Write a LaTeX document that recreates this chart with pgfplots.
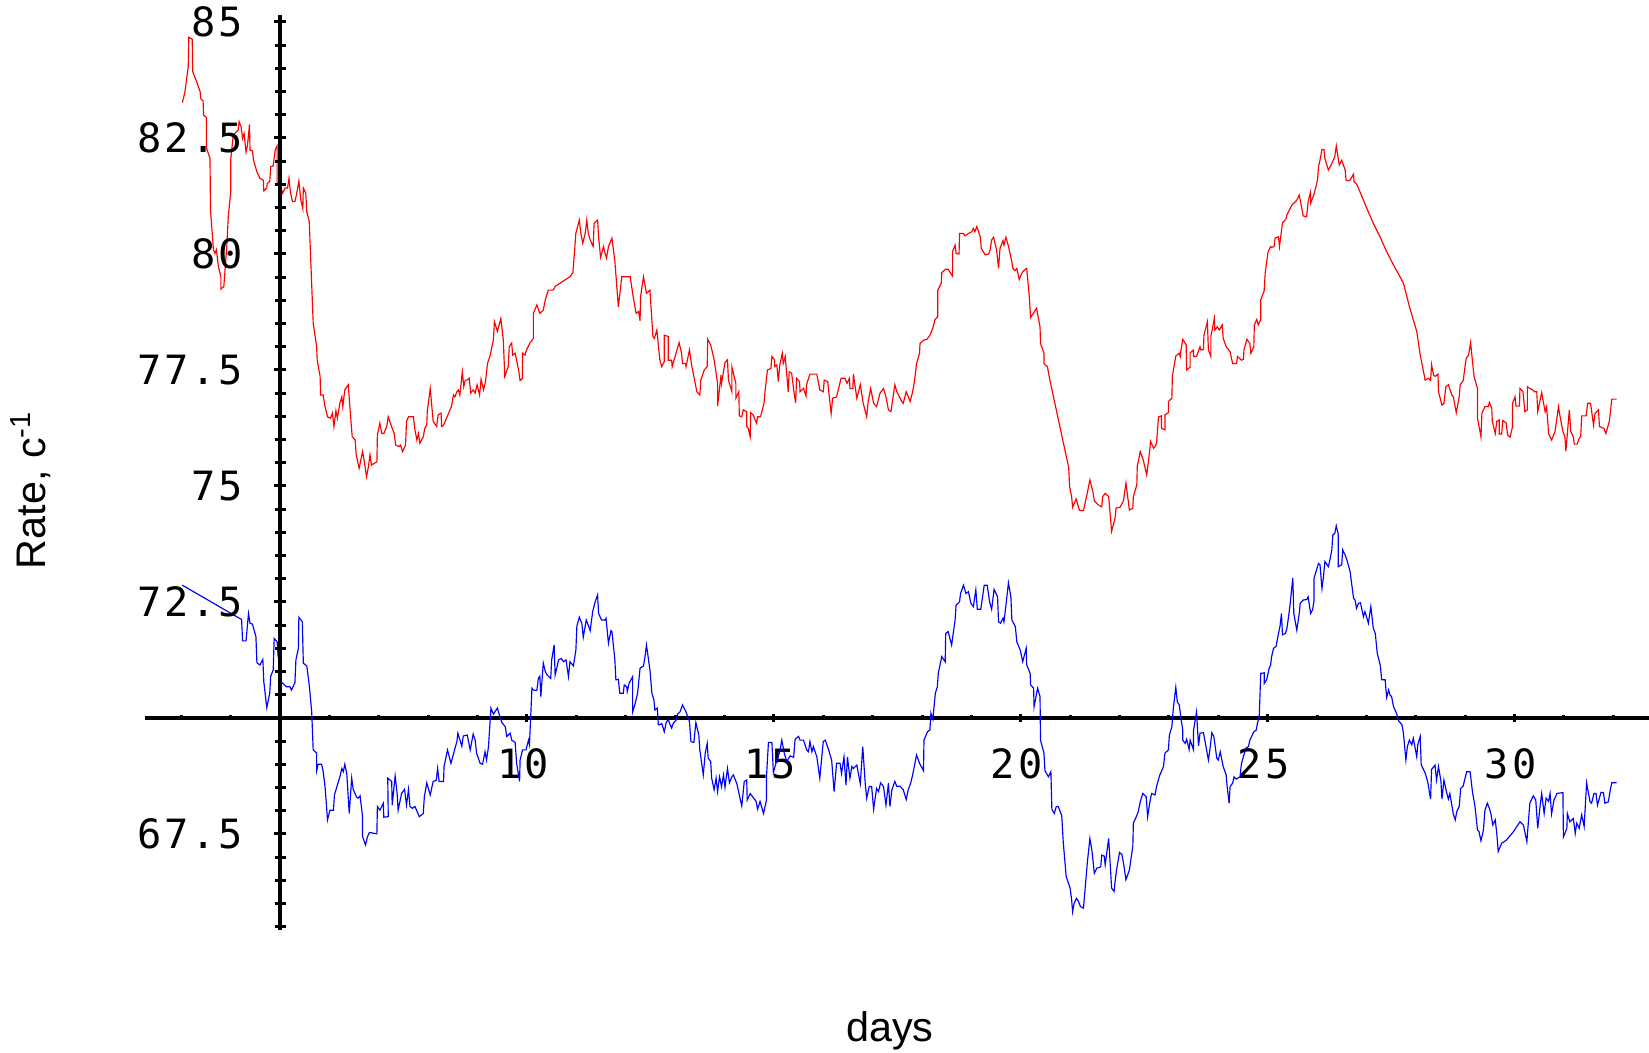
\documentclass[border=0pt]{standalone}
\usepackage{pgfplots}
\pgfplotsset{compat=1.18}
\usepackage{fontspec}
\setmainfont{Liberation Sans}
\newfontfamily\tickfont{DejaVu Sans Mono}[LetterSpace=7.5]
\pgfplotstableread[row sep=\\]{
x y\\
3.02 83.26\\ 3.07 83.48\\ 3.14 84.04\\ 3.15 84.67\\ 3.22 84.63\\ 3.23 83.93\\ 3.31 83.71\\ 3.38 83.50\\ 3.39 83.35\\ 3.44 83.30\\
3.45 82.99\\ 3.51 82.94\\ 3.51 82.28\\ 3.58 82.06\\ 3.59 80.95\\ 3.65 80.09\\ 3.68 80.01\\ 3.71 80.09\\ 3.75 79.73\\ 3.80 79.51\\
3.80 79.24\\ 3.86 79.30\\ 3.92 80.16\\ 3.95 80.80\\ 4.00 81.34\\ 4.00 82.03\\ 4.05 82.56\\ 4.15 82.67\\ 4.17 82.85\\ 4.21 82.74\\
4.24 82.49\\ 4.27 82.60\\ 4.31 82.20\\ 4.34 82.35\\ 4.38 82.79\\ 4.39 82.24\\ 4.44 82.22\\ 4.46 82.03\\ 4.53 81.77\\ 4.59 81.63\\
4.66 81.59\\ 4.67 81.36\\ 4.73 81.42\\ 4.74 81.52\\ 4.79 81.56\\ 4.81 81.88\\ 4.86 81.90\\ 4.90 82.24\\ 4.94 82.33\\ 4.94 81.50\\
5.01 81.45\\ 5.05 81.31\\ 5.10 81.42\\ 5.15 81.42\\ 5.18 81.63\\ 5.21 81.32\\ 5.25 81.13\\ 5.30 81.13\\ 5.33 81.27\\ 5.38 81.57\\
5.42 81.16\\ 5.46 80.98\\ 5.47 81.42\\ 5.52 81.31\\ 5.54 80.91\\ 5.59 80.70\\ 5.67 78.51\\ 5.74 78.00\\ 5.75 77.72\\ 5.81 77.36\\
5.82 76.96\\ 5.87 76.96\\ 5.91 76.71\\ 5.96 76.49\\ 6.02 76.46\\ 6.06 76.57\\ 6.09 76.28\\ 6.13 76.62\\ 6.16 76.46\\ 6.21 76.78\\
6.25 76.92\\ 6.27 76.71\\ 6.31 77.07\\ 6.38 77.18\\ 6.42 76.60\\ 6.46 76.06\\ 6.52 75.99\\ 6.54 75.68\\ 6.60 75.38\\ 6.67 75.74\\
6.70 75.56\\ 6.75 75.20\\ 6.79 75.42\\ 6.82 75.67\\ 6.85 75.45\\ 6.96 75.52\\ 6.97 76.10\\ 7.02 76.35\\ 7.06 76.13\\ 7.10 76.13\\
7.16 76.28\\ 7.19 76.49\\ 7.26 76.27\\ 7.31 76.13\\ 7.34 75.88\\ 7.41 75.85\\ 7.44 75.88\\ 7.48 75.74\\ 7.54 75.88\\ 7.56 76.39\\
7.60 76.49\\ 7.70 76.49\\ 7.73 76.21\\ 7.77 75.99\\ 7.80 76.13\\ 7.83 75.92\\ 7.90 76.06\\ 7.93 76.24\\ 7.97 76.31\\ 7.98 76.60\\
8.04 77.10\\ 8.10 76.39\\ 8.17 76.28\\ 8.20 76.53\\ 8.26 76.57\\ 8.27 76.28\\ 8.31 76.31\\ 8.37 76.46\\ 8.47 76.71\\ 8.51 76.96\\
8.54 76.92\\ 8.58 77.03\\ 8.61 77.07\\ 8.64 76.96\\ 8.69 77.46\\ 8.72 77.14\\ 8.75 77.28\\ 8.79 77.28\\ 8.83 77.32\\ 8.86 77.00\\
8.91 77.07\\ 8.95 77.00\\ 8.99 77.18\\ 9.04 76.96\\ 9.07 77.30\\ 9.12 77.07\\ 9.16 77.25\\ 9.20 77.64\\ 9.25 77.80\\ 9.32 78.15\\
9.34 78.54\\ 9.40 78.33\\ 9.47 78.61\\ 9.52 78.15\\ 9.55 77.36\\ 9.62 77.57\\ 9.64 78.00\\ 9.69 78.08\\ 9.71 77.82\\ 9.76 77.86\\
9.83 77.50\\ 9.86 77.27\\ 9.91 77.32\\ 9.91 77.86\\ 9.96 77.82\\ 9.99 77.93\\ 10.06 78.08\\ 10.13 78.18\\ 10.13 78.72\\ 10.20 78.90\\
10.26 78.72\\ 10.33 78.79\\ 10.37 79.01\\ 10.43 79.22\\ 10.53 79.22\\ 10.57 79.30\\ 10.67 79.37\\ 10.77 79.44\\ 10.87 79.51\\ 10.93 79.60\\
10.97 80.16\\ 10.99 80.45\\ 11.06 80.73\\ 11.09 80.45\\ 11.13 80.23\\ 11.18 80.45\\ 11.21 80.73\\ 11.24 80.45\\ 11.28 80.30\\ 11.34 80.16\\
11.36 80.66\\ 11.43 80.73\\ 11.45 80.37\\ 11.49 79.93\\ 11.55 80.16\\ 11.58 80.01\\ 11.61 79.91\\ 11.65 80.16\\ 11.72 80.34\\ 11.78 79.84\\
11.85 78.86\\ 11.92 79.51\\ 12.09 79.51\\ 12.15 79.08\\ 12.21 78.72\\ 12.26 78.76\\ 12.29 78.56\\ 12.30 79.08\\ 12.36 79.51\\ 12.42 79.15\\
12.49 79.22\\ 12.55 78.22\\ 12.58 78.18\\ 12.63 78.36\\ 12.69 77.72\\ 12.73 77.57\\ 12.78 77.68\\ 12.78 78.25\\ 12.86 78.22\\ 12.86 77.71\\
12.93 77.71\\ 12.94 77.57\\ 13.00 77.79\\ 13.08 78.09\\ 13.13 77.86\\ 13.15 77.64\\ 13.21 77.64\\ 13.22 77.57\\ 13.29 77.93\\ 13.34 77.57\\
13.44 77.03\\ 13.50 76.96\\ 13.52 77.28\\ 13.59 77.50\\ 13.65 77.57\\ 13.66 78.16\\ 13.72 78.04\\ 13.79 77.72\\ 13.86 77.21\\ 13.86 76.72\\
13.93 77.39\\ 13.94 77.21\\ 14.01 77.66\\ 14.06 77.72\\ 14.08 77.28\\ 14.15 77.03\\ 14.15 77.56\\ 14.23 77.21\\ 14.23 76.89\\ 14.29 77.03\\
14.30 76.51\\ 14.35 76.49\\ 14.38 76.64\\ 14.45 76.60\\ 14.45 76.28\\ 14.48 76.24\\ 14.52 76.06\\ 14.53 76.58\\ 14.58 76.53\\ 14.65 76.35\\
14.67 76.49\\ 14.73 76.49\\ 14.80 76.78\\ 14.82 77.03\\ 14.87 77.50\\ 14.94 77.53\\ 14.96 77.79\\ 15.01 77.72\\ 15.02 77.57\\ 15.06 77.61\\
15.09 77.25\\ 15.12 77.61\\ 15.17 77.86\\ 15.19 77.64\\ 15.23 77.79\\ 15.29 77.03\\ 15.31 77.46\\ 15.36 77.43\\ 15.41 77.00\\ 15.44 76.79\\
15.46 77.32\\ 15.52 77.25\\ 15.53 77.03\\ 15.60 77.10\\ 15.65 76.94\\ 15.665 77.20\\ 15.73 77.41\\ 15.87 77.41\\ 15.93 77.07\\ 16.00 77.03\\
16.02 77.28\\ 16.09 77.25\\ 16.16 76.56\\ 16.19 76.89\\ 16.27 76.92\\ 16.32 77.14\\ 16.36 77.32\\ 16.44 77.32\\ 16.48 77.21\\ 16.53 77.32\\
16.54 77.10\\ 16.60 77.10\\ 16.61 77.41\\ 16.68 76.89\\ 16.75 77.18\\ 16.81 76.78\\ 16.88 76.49\\ 16.91 76.82\\ 16.96 77.10\\ 17.02 76.78\\
17.08 76.71\\ 17.15 77.00\\ 17.22 77.10\\ 17.27 76.92\\ 17.32 76.64\\ 17.37 76.60\\ 17.45 77.18\\ 17.49 77.03\\ 17.59 76.82\\ 17.62 76.78\\
17.68 77.03\\ 17.76 76.82\\ 17.81 77.03\\ 17.85 77.28\\ 17.89 77.64\\ 17.95 77.86\\ 17.96 78.07\\ 18.03 78.14\\ 18.10 78.16\\ 18.16 78.25\\
18.22 78.40\\ 18.26 78.58\\ 18.32 78.65\\ 18.32 79.22\\ 18.39 79.37\\ 18.40 79.60\\ 18.48 79.67\\ 18.53 79.67\\ 18.62 79.52\\ 18.62 80.06\\
18.67 80.19\\ 18.69 80.01\\ 18.75 80.00\\ 18.76 80.44\\ 18.84 80.44\\ 18.87 80.39\\ 18.94 80.44\\ 19.01 80.48\\ 19.04 80.55\\ 19.07 80.48\\
19.11 80.59\\ 19.18 80.37\\ 19.20 80.12\\ 19.28 79.98\\ 19.35 80.00\\ 19.38 80.09\\ 19.41 80.30\\ 19.45 80.36\\ 19.51 80.09\\ 19.55 79.69\\
19.58 80.12\\ 19.64 80.29\\ 19.66 80.19\\ 19.70 80.36\\ 19.75 80.17\\ 19.82 79.83\\ 19.84 79.69\\ 19.88 79.64\\ 19.92 79.69\\ 19.97 79.45\\
19.99 79.51\\ 20.04 79.62\\ 20.12 79.69\\ 20.17 79.12\\ 20.20 78.63\\ 20.32 78.83\\ 20.39 78.43\\ 20.40 78.07\\ 20.47 77.86\\ 20.47 77.64\\
20.54 77.57\\ 20.59 77.28\\ 20.97 75.40\\ 20.99 74.98\\ 21.03 74.77\\ 21.05 74.54\\ 21.12 74.72\\ 21.19 74.47\\ 21.27 74.47\\ 21.34 74.81\\
21.40 75.13\\ 21.46 74.88\\ 21.49 74.68\\ 21.57 74.59\\ 21.64 74.55\\ 21.66 74.77\\ 21.71 74.84\\ 21.78 74.77\\ 21.80 74.52\\ 21.84 74.02\\
21.91 74.30\\ 21.93 74.52\\ 22.01 74.54\\ 22.08 74.68\\ 22.13 75.06\\ 22.20 74.48\\ 22.27 74.52\\ 22.28 74.77\\ 22.35 75.02\\ 22.36 75.42\\
22.42 75.74\\ 22.48 75.56\\ 22.55 75.24\\ 22.59 75.56\\ 22.63 75.96\\ 22.69 75.81\\ 22.72 75.85\\ 22.75 75.92\\ 22.79 76.49\\ 22.85 76.51\\
22.85 76.24\\ 22.92 76.21\\ 22.92 76.53\\ 22.99 76.58\\ 22.99 76.82\\ 23.06 76.89\\ 23.07 77.36\\ 23.14 77.80\\ 23.21 77.86\\ 23.23 77.79\\
23.24 77.89\\ 23.28 78.16\\ 23.35 78.04\\ 23.36 77.50\\ 23.43 77.56\\ 23.43 77.87\\ 23.50 77.93\\ 23.50 77.79\\ 23.56 77.79\\ 23.63 78.00\\
23.65 77.93\\ 23.70 77.94\\ 23.71 78.25\\ 23.78 78.54\\ 23.80 77.93\\ 23.85 77.79\\ 23.85 78.22\\ 23.92 78.61\\ 23.93 78.36\\ 23.98 78.43\\
24.02 78.36\\ 24.08 78.47\\ 24.10 78.18\\ 24.16 78.00\\ 24.24 77.89\\ 24.29 77.64\\ 24.37 77.64\\ 24.39 77.79\\ 24.47 77.71\\ 24.51 77.73\\
24.52 77.93\\ 24.58 78.16\\ 24.64 78.07\\ 24.66 77.86\\ 24.72 78.00\\ 24.73 78.47\\ 24.78 78.59\\ 24.81 78.47\\ 24.86 78.59\\ 24.86 79.01\\
24.93 79.21\\ 24.95 79.58\\ 24.98 79.83\\ 25.01 80.05\\ 25.06 80.16\\ 25.08 80.14\\ 25.13 80.16\\ 25.15 80.34\\ 25.22 80.37\\ 25.24 80.16\\
25.30 80.67\\ 25.37 80.75\\ 25.39 80.84\\ 25.44 80.95\\ 25.49 81.05\\ 25.59 81.16\\ 25.64 81.27\\ 25.72 80.82\\ 25.79 80.80\\ 25.82 81.13\\
25.87 81.34\\ 25.87 81.09\\ 25.94 81.29\\ 26.01 81.59\\ 26.03 81.88\\ 26.06 82.02\\ 26.10 82.25\\ 26.14 82.25\\ 26.16 82.06\\ 26.23 81.81\\
26.30 81.95\\ 26.36 82.10\\ 26.39 82.33\\ 26.45 81.92\\ 26.50 82.02\\ 26.57 81.81\\ 26.59 81.58\\ 26.66 81.58\\ 26.70 81.65\\ 26.74 81.72\\
26.75 81.56\\ 26.80 81.51\\ 26.87 81.34\\ 27.01 80.98\\ 27.14 80.66\\ 27.28 80.36\\ 27.41 80.05\\ 27.55 79.76\\ 27.68 79.51\\ 27.75 79.37\\
27.88 78.83\\ 28.02 78.33\\ 28.09 77.82\\ 28.15 77.50\\ 28.19 77.28\\ 28.26 77.32\\ 28.30 77.27\\ 28.32 77.61\\ 28.36 77.39\\ 28.39 77.36\\
28.45 77.41\\ 28.46 77.03\\ 28.53 76.74\\ 28.57 76.78\\ 28.61 77.14\\ 28.66 77.18\\ 28.73 76.96\\ 28.76 76.92\\ 28.82 76.58\\ 28.88 76.92\\
28.90 77.18\\ 28.96 77.27\\ 29.02 77.75\\ 29.07 77.82\\ 29.11 78.09\\ 29.18 77.36\\ 29.25 77.10\\ 29.25 76.46\\ 29.32 76.06\\ 29.34 76.57\\
29.40 76.71\\ 29.47 76.71\\ 29.49 76.80\\ 29.54 76.67\\ 29.55 76.39\\ 29.61 76.13\\ 29.64 76.39\\ 29.69 76.42\\ 29.69 76.12\\ 29.74 76.12\\
29.76 76.41\\ 29.83 76.36\\ 29.86 76.10\\ 29.91 76.05\\ 29.96 76.28\\ 29.96 76.78\\ 30.01 76.92\\ 30.03 76.72\\ 30.10 76.72\\ 30.11 77.10\\
30.17 77.03\\ 30.21 76.60\\ 30.26 76.64\\ 30.26 77.14\\ 30.31 77.10\\ 30.37 77.07\\ 30.40 77.03\\ 30.45 77.03\\ 30.47 76.60\\ 30.55 77.01\\
30.62 76.60\\ 30.65 76.71\\ 30.69 76.13\\ 30.75 75.99\\ 30.82 76.17\\ 30.89 76.71\\ 30.91 76.57\\ 30.98 76.17\\ 31.02 76.06\\ 31.04 75.75\\
31.11 76.64\\ 31.14 76.17\\ 31.19 76.06\\ 31.21 75.90\\ 31.27 75.90\\ 31.31 76.03\\ 31.34 76.06\\ 31.36 76.51\\ 31.45 76.51\\ 31.48 76.78\\
31.54 76.78\\ 31.60 76.31\\ 31.63 76.56\\ 31.70 76.64\\ 31.72 76.28\\ 31.81 76.24\\ 31.85 76.13\\ 31.92 76.39\\ 31.97 76.87\\ 32.07 76.87\\
}\redtable
\pgfplotstableread[row sep=\\]{
x y\\
3.02 72.86\\ 4.22 72.12\\ 4.24 71.66\\ 4.31 71.66\\ 4.36 72.25\\ 4.39 72.04\\ 4.44 72.02\\ 4.51 71.75\\ 4.53 71.19\\ 4.59 71.14\\
4.65 71.26\\ 4.67 70.78\\ 4.73 70.22\\ 4.79 70.53\\ 4.81 70.90\\ 4.86 71.03\\ 4.88 71.71\\ 4.94 71.64\\ 4.96 71.32\\ 5.01 71.18\\
5.01 70.78\\ 5.07 70.73\\ 5.13 70.67\\ 5.20 70.67\\ 5.23 70.60\\ 5.30 70.76\\ 5.32 71.25\\ 5.37 71.50\\ 5.38 72.17\\ 5.45 72.07\\
5.47 71.18\\ 5.54 71.12\\ 5.59 70.71\\ 5.64 70.13\\ 5.67 69.31\\ 5.74 69.24\\ 5.74 68.86\\ 5.77 69.00\\ 5.84 69.00\\ 5.87 68.86\\
5.91 68.52\\ 5.96 67.80\\ 6.01 68.01\\ 6.08 68.01\\ 6.10 68.34\\ 6.21 68.73\\ 6.25 68.91\\ 6.28 68.84\\ 6.31 69.00\\ 6.35 68.80\\
6.40 67.94\\ 6.45 68.70\\ 6.48 68.46\\ 6.55 68.29\\ 6.58 68.27\\ 6.62 68.32\\ 6.67 67.87\\ 6.67 67.44\\ 6.73 67.26\\ 6.77 67.44\\
6.81 67.53\\ 6.96 67.50\\ 6.97 68.09\\ 7.02 68.01\\ 7.09 68.16\\ 7.10 67.86\\ 7.19 67.87\\ 7.18 68.70\\ 7.26 68.63\\ 7.27 68.12\\
7.33 68.75\\ 7.37 68.37\\ 7.39 68.01\\ 7.46 68.37\\ 7.52 68.46\\ 7.56 68.12\\ 7.60 68.46\\ 7.63 68.09\\ 7.68 68.05\\ 7.73 68.09\\
7.82 67.87\\ 7.90 67.94\\ 7.92 68.29\\ 7.97 68.60\\ 8.04 68.34\\ 8.10 68.63\\ 8.16 68.65\\ 8.19 68.91\\ 8.22 68.63\\ 8.31 68.63\\
8.32 68.95\\ 8.39 69.31\\ 8.46 69.02\\ 8.51 69.22\\ 8.58 69.49\\ 8.60 69.67\\ 8.68 69.39\\ 8.71 69.61\\ 8.79 69.63\\ 8.85 69.31\\
8.91 69.65\\ 8.95 69.52\\ 8.98 69.24\\ 9.05 69.02\\ 9.10 69.00\\ 9.15 69.27\\ 9.18 69.09\\ 9.22 69.38\\ 9.27 70.21\\ 9.32 70.08\\
9.40 70.21\\ 9.45 70.03\\ 9.49 69.90\\ 9.56 69.81\\ 9.59 69.60\\ 9.66 69.67\\ 9.69 69.52\\ 9.76 69.47\\ 9.79 69.02\\ 9.85 68.63\\
9.86 69.09\\ 9.91 69.31\\ 9.98 69.31\\ 10.03 69.52\\ 10.05 69.42\\ 10.10 70.64\\ 10.13 70.60\\ 10.20 70.59\\ 10.23 70.85\\ 10.26 70.90\\
10.28 70.46\\ 10.33 71.18\\ 10.37 71.00\\ 10.41 70.92\\ 10.48 70.85\\ 10.50 71.25\\ 10.55 71.57\\ 10.57 70.92\\ 10.64 71.25\\ 10.69 71.28\\
10.74 71.21\\ 10.79 71.25\\ 10.84 70.89\\ 10.87 71.21\\ 10.94 71.12\\ 10.99 71.46\\ 11.01 71.98\\ 11.06 72.17\\ 11.11 72.04\\ 11.14 71.74\\
11.20 72.11\\ 11.24 72.00\\ 11.28 71.88\\ 11.33 72.29\\ 11.38 72.50\\ 11.43 72.65\\ 11.45 72.25\\ 11.51 72.11\\ 11.58 72.11\\ 11.60 72.15\\
11.65 71.61\\ 11.70 71.88\\ 11.72 71.86\\ 11.78 71.25\\ 11.80 70.82\\ 11.85 70.83\\ 11.88 70.53\\ 11.95 70.53\\ 11.97 70.71\\ 12.02 70.67\\
12.03 70.57\\ 12.07 70.75\\ 12.14 70.89\\ 12.14 70.13\\ 12.19 70.31\\ 12.24 70.53\\ 12.29 71.07\\ 12.36 71.12\\ 12.39 71.32\\ 12.42 71.57\\
12.49 71.03\\ 12.53 70.53\\ 12.57 70.39\\ 12.59 70.17\\ 12.64 70.21\\ 12.66 69.85\\ 12.69 69.85\\ 12.73 69.88\\ 12.78 69.70\\ 12.82 69.90\\
12.86 69.97\\ 12.90 69.85\\ 12.93 69.78\\ 12.96 69.88\\ 13.02 69.95\\ 13.05 70.08\\ 13.10 70.13\\ 13.15 70.28\\ 13.22 70.13\\ 13.29 69.92\\
13.32 69.49\\ 13.38 69.47\\ 13.42 69.90\\ 13.48 69.63\\ 13.50 69.31\\ 13.57 68.77\\ 13.61 69.24\\ 13.65 69.45\\ 13.67 69.13\\ 13.72 69.06\\
13.74 68.70\\ 13.79 68.45\\ 13.83 68.70\\ 13.86 68.41\\ 13.90 68.73\\ 13.94 68.52\\ 13.98 68.77\\ 14.01 68.50\\ 14.06 68.91\\ 14.10 68.60\\
14.15 68.73\\ 14.18 68.77\\ 14.25 68.58\\ 14.30 68.34\\ 14.35 68.10\\ 14.40 68.63\\ 14.45 68.66\\ 14.46 68.23\\ 14.52 68.37\\ 14.57 68.30\\
14.64 68.20\\ 14.67 68.03\\ 14.72 68.20\\ 14.79 67.94\\ 14.85 68.23\\ 14.85 68.73\\ 14.89 69.47\\ 14.96 69.47\\ 14.99 68.82\\ 15.06 69.09\\
15.12 69.27\\ 15.16 69.52\\ 15.21 69.24\\ 15.26 69.06\\ 15.33 69.18\\ 15.40 69.15\\ 15.43 69.54\\ 15.50 69.60\\ 15.53 69.52\\ 15.60 69.52\\
15.665 69.31\\ 15.70 69.27\\ 15.73 69.49\\ 15.77 69.27\\ 15.80 69.38\\ 15.87 69.16\\ 15.93 68.70\\ 16.00 69.49\\ 16.04 69.52\\ 16.10 69.34\\
16.17 69.09\\ 16.22 68.41\\ 16.27 69.02\\ 16.34 69.02\\ 16.37 68.80\\ 16.42 69.16\\ 16.46 68.55\\ 16.49 69.16\\ 16.54 68.70\\ 16.58 68.95\\
16.61 68.91\\ 16.68 68.98\\ 16.75 68.58\\ 16.80 69.38\\ 16.85 68.59\\ 16.88 68.27\\ 16.93 68.52\\ 16.98 68.52\\ 17.02 68.03\\ 17.08 68.48\\
17.12 68.41\\ 17.16 68.60\\ 17.22 68.52\\ 17.27 68.12\\ 17.32 68.59\\ 17.35 68.09\\ 17.39 68.45\\ 17.45 68.63\\ 17.49 68.52\\ 17.55 68.53\\
17.62 68.45\\ 17.68 68.24\\ 17.72 68.45\\ 17.77 68.59\\ 17.81 68.77\\ 17.89 69.20\\ 17.95 69.02\\ 18.03 68.86\\ 18.04 69.52\\ 18.11 69.70\\
18.16 69.74\\ 18.18 70.10\\ 18.22 69.97\\ 18.27 70.53\\ 18.31 70.67\\ 18.33 70.96\\ 18.40 71.32\\ 18.47 71.21\\ 18.48 71.82\\ 18.53 71.86\\
18.60 71.57\\ 18.64 71.88\\ 18.67 72.11\\ 18.69 72.43\\ 18.76 72.50\\ 18.78 72.68\\ 18.84 72.86\\ 18.89 72.68\\ 18.94 72.72\\ 18.99 72.47\\
19.04 72.40\\ 19.09 72.76\\ 19.12 72.34\\ 19.19 72.34\\ 19.26 72.86\\ 19.32 72.86\\ 19.37 72.50\\ 19.41 72.34\\ 19.46 72.77\\ 19.53 72.61\\
19.55 72.07\\ 19.59 72.04\\ 19.64 72.15\\ 19.66 72.07\\ 19.70 72.43\\ 19.75 72.91\\ 19.80 72.61\\ 19.82 72.11\\ 19.89 71.97\\ 19.92 71.64\\
19.99 71.46\\ 20.04 71.21\\ 20.11 71.50\\ 20.12 71.14\\ 20.19 70.96\\ 20.20 70.71\\ 20.26 70.64\\ 20.27 70.24\\ 20.34 70.64\\ 20.39 70.46\\
20.40 69.52\\ 20.47 69.24\\ 20.49 68.86\\ 20.56 68.73\\ 20.61 68.84\\ 20.63 68.03\\ 20.68 67.94\\ 20.72 68.09\\ 20.76 68.09\\ 20.83 67.89\\
20.86 67.33\\ 20.92 66.58\\ 21.00 66.33\\ 21.03 66.08\\ 21.05 65.82\\ 21.08 66.00\\ 21.13 66.11\\ 21.17 66.04\\ 21.21 65.93\\ 21.27 65.90\\
21.35 66.90\\ 21.40 67.40\\ 21.44 67.15\\ 21.49 66.65\\ 21.54 66.76\\ 21.62 66.79\\ 21.64 67.04\\ 21.69 67.02\\ 21.71 66.83\\ 21.74 67.08\\
21.78 67.40\\ 21.81 66.87\\ 21.84 66.33\\ 21.89 66.26\\ 21.91 66.47\\ 21.94 66.72\\ 22.00 67.10\\ 22.05 67.05\\ 22.09 66.81\\ 22.13 66.51\\
22.20 66.72\\ 22.27 67.24\\ 22.28 67.73\\ 22.34 67.87\\ 22.38 67.98\\ 22.42 68.19\\ 22.47 68.37\\ 22.54 68.30\\ 22.57 67.87\\ 22.61 68.16\\
22.65 68.37\\ 22.72 68.34\\ 22.75 68.52\\ 22.81 68.75\\ 22.89 68.95\\ 22.92 69.24\\ 22.99 69.31\\ 23.01 69.63\\ 23.06 69.81\\ 23.09 70.21\\
23.14 70.66\\ 23.17 70.35\\ 23.21 70.28\\ 23.24 70.03\\ 23.28 69.74\\ 23.28 69.52\\ 23.33 69.45\\ 23.36 69.54\\ 23.41 69.32\\ 23.43 69.52\\
23.50 69.31\\ 23.50 69.74\\ 23.56 70.13\\ 23.60 69.39\\ 23.63 69.67\\ 23.70 69.68\\ 23.75 69.39\\ 23.80 69.09\\ 23.83 69.31\\ 23.87 69.68\\
23.91 69.60\\ 23.97 69.13\\ 24.00 69.09\\ 24.04 69.27\\ 24.07 69.11\\ 24.10 68.95\\ 24.16 68.77\\ 24.18 68.52\\ 24.22 68.16\\ 24.24 68.52\\
24.29 68.59\\ 24.32 68.73\\ 24.36 68.68\\ 24.44 68.73\\ 24.47 69.02\\ 24.56 69.35\\ 24.61 69.38\\ 24.64 69.52\\ 24.68 69.61\\ 24.72 69.70\\
24.77 69.74\\ 24.79 69.87\\ 24.83 70.03\\ 24.86 70.96\\ 24.93 70.97\\ 24.93 70.74\\ 24.98 70.82\\ 25.03 71.07\\ 25.06 71.14\\ 25.08 71.32\\
25.12 71.50\\ 25.17 71.54\\ 25.22 71.82\\ 25.25 71.97\\ 25.28 72.25\\ 25.30 71.79\\ 25.36 71.82\\ 25.39 71.93\\ 25.42 72.15\\ 25.45 72.40\\
25.51 73.01\\ 25.53 72.25\\ 25.59 71.89\\ 25.64 72.25\\ 25.66 72.47\\ 25.72 72.54\\ 25.79 72.55\\ 25.82 72.61\\ 25.87 72.25\\ 25.91 72.33\\
25.94 72.53\\ 25.94 73.01\\ 25.99 73.19\\ 26.03 73.33\\ 26.06 73.30\\ 26.10 72.79\\ 26.13 73.04\\ 26.16 73.37\\ 26.23 73.26\\ 26.26 73.40\\
26.30 73.62\\ 26.32 73.94\\ 26.36 73.98\\ 26.39 74.14\\ 26.43 73.96\\ 26.43 73.26\\ 26.50 73.30\\ 26.52 73.62\\ 26.57 73.51\\ 26.61 73.39\\
26.67 73.15\\ 26.74 72.58\\ 26.77 72.54\\ 26.80 72.36\\ 26.84 72.47\\ 26.88 72.48\\ 26.94 72.18\\ 26.97 72.29\\ 27.01 72.15\\ 27.04 72.04\\
27.09 72.40\\ 27.14 71.93\\ 27.18 71.82\\ 27.22 71.39\\ 27.28 71.14\\ 27.31 70.82\\ 27.38 70.82\\ 27.41 70.44\\ 27.45 70.60\\ 27.48 70.49\\
27.51 70.46\\ 27.55 70.24\\ 27.61 70.10\\ 27.65 69.94\\ 27.72 69.85\\ 27.75 69.67\\ 27.80 69.09\\ 27.83 69.38\\ 27.87 69.52\\ 27.92 69.42\\
27.95 69.56\\ 28.02 69.16\\ 28.04 69.42\\ 28.09 69.60\\ 28.11 68.99\\ 28.19 68.81\\ 28.24 68.63\\ 28.30 68.25\\ 28.32 68.89\\ 28.39 68.98\\
28.42 68.66\\ 28.46 68.95\\ 28.51 68.63\\ 28.53 68.25\\ 28.57 68.66\\ 28.63 68.37\\ 28.66 68.25\\ 28.69 68.37\\ 28.76 67.93\\ 28.80 67.80\\
28.83 67.98\\ 28.88 68.09\\ 28.91 68.48\\ 28.96 68.53\\ 29.03 68.84\\ 29.10 68.84\\ 29.15 68.39\\ 29.20 68.09\\ 29.25 67.58\\ 29.28 67.55\\
29.32 67.35\\ 29.37 67.58\\ 29.40 68.01\\ 29.45 68.16\\ 29.49 68.05\\ 29.52 67.94\\ 29.56 67.69\\ 29.61 67.80\\ 29.64 67.51\\ 29.67 67.12\\
29.74 67.30\\ 29.79 67.33\\ 29.84 67.37\\ 29.98 67.55\\ 30.11 67.76\\ 30.18 67.69\\ 30.25 67.33\\ 30.31 68.16\\ 30.38 68.32\\ 30.43 68.23\\
30.47 67.62\\ 30.52 68.12\\ 30.55 68.37\\ 30.60 67.94\\ 30.64 68.27\\ 30.69 68.20\\ 30.72 68.37\\ 30.75 67.93\\ 30.80 68.23\\ 30.86 68.37\\
30.98 68.39\\ 30.99 67.43\\ 31.06 67.62\\ 31.07 67.94\\ 31.12 67.76\\ 31.19 67.83\\ 31.23 67.51\\ 31.26 67.73\\ 31.31 67.62\\ 31.36 67.91\\
31.41 67.66\\ 31.46 68.60\\ 31.53 68.19\\ 31.56 68.16\\ 31.61 68.37\\ 31.65 68.37\\ 31.68 68.12\\ 31.75 68.39\\ 31.80 68.39\\ 31.83 68.16\\
31.90 68.19\\ 31.94 68.45\\ 31.97 68.60\\ 32.07 68.60\\
}\bluetable
\pgfplotsset{
  common/.style={
    x=14.8125pt, y=13.917pt,
    xmin=-2.737, xmax=27.724, ymin=-4.57, ymax=15.15,
    x filter/.expression={x-5}, y filter/.expression={y-70},
    axis line style={-, line width=1pt, black},
    tick style={black, line width=0.9pt},
    tick align=inside,
    ticklabel style={font=\tickfont\fontsize{12.1}{14}\selectfont, text=black},
    clip=false,
  }
}
\begin{document}
\begin{tikzpicture}
\begin{axis}[common,
  axis x line=middle, axis y line=none,
  every inner x axis line/.append style={-},
  x axis line style={-},
  xtick={5,10,15,20,25}, xticklabels={10,15,20,25,30},
  minor xtick={-2,-1,...,27},
  major tick length=2.6pt, minor tick length=1.5pt,
  ytick=\empty,
  xticklabel style={anchor=north, inner sep=0pt, yshift=-7.8pt, xshift=-1.2pt},
  xlabel={days},
  every axis x label/.style={at={(axis description cs:0.4953,-0.1105)}, anchor=center, font=\fontsize{12.4}{14}\selectfont},
]
\addplot[red, line width=0.35pt] table[x=x, y=y] {\redtable};
\addplot[blue, line width=0.35pt] table[x=x, y=y] {\bluetable};
\coordinate (bl) at (axis cs:-5.673,-7.203);
\coordinate (tr) at (axis cs:27.724,15.474);
\end{axis}
\begin{axis}[common,
  axis x line=none, axis y line=middle,
  every inner y axis line/.append style={-},
  y axis line style={-},
  xtick=\empty,
  ytick={-2.5,2.5,5,7.5,10,12.5,15}, yticklabels={67.5,72.5,75,77.5,80,82.5,85},
  minor ytick={-4.5,-4,...,15},
  major tick length=3.7pt, minor tick length=3.3pt,
  yticklabel style={anchor=east, inner sep=0pt, xshift=-9pt},
  ylabel={Rate, c\textsuperscript{-1}},
  every axis y label/.style={at={(axis description cs:-0.0758,0.4808)}, anchor=center, rotate=90, font=\fontsize{12.4}{14}\selectfont},
]
\end{axis}
\pgfresetboundingbox
\path[use as bounding box] (bl) rectangle (tr);
\end{tikzpicture}
\end{document}
